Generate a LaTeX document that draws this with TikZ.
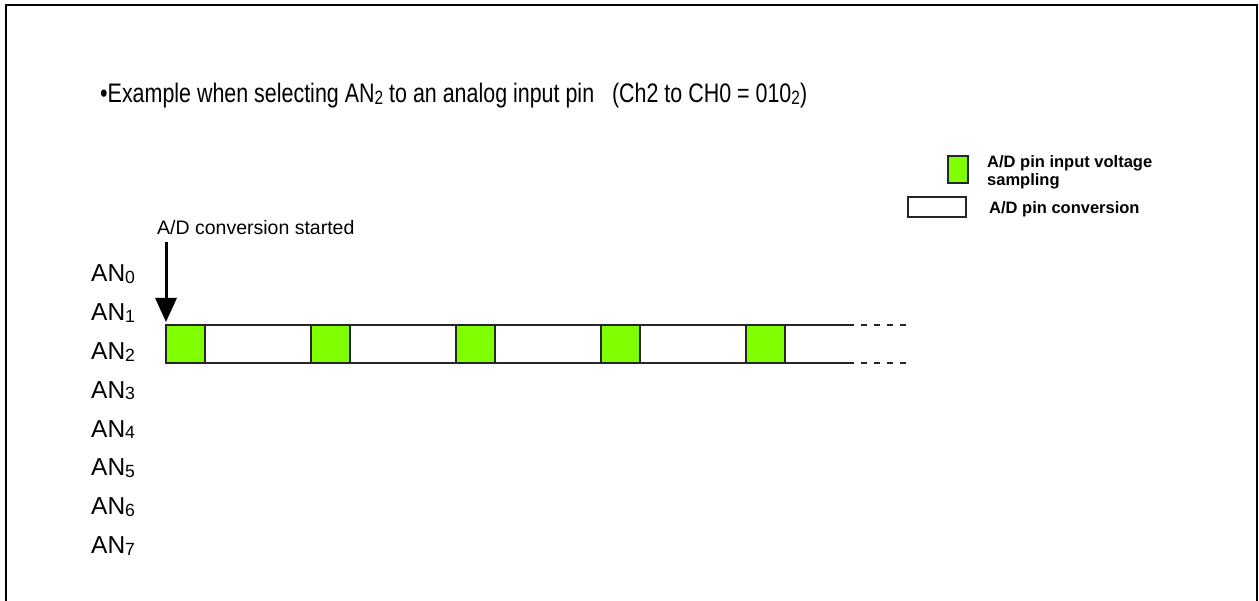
\documentclass[tikz,border=0pt]{standalone}
\usepackage{fontspec}
\setmainfont{Liberation Sans}
\newfontfamily\titlefont[FakeStretch=0.8]{Liberation Sans}
\usepackage{graphicx}
\usetikzlibrary{arrows.meta,positioning}
\definecolor{samplegreen}{RGB}{128,255,0}
\newcommand{\subdig}[1]{\raisebox{-0.06em}{\scalebox{0.72}{#1}}}

\begin{document}
\begin{tikzpicture}[x=1pt,y=-1pt,
    frameline/.style={line width=2.5pt},
    barline/.style={line width=1.8pt, draw=black!85},
    sampbox/.style={draw=black!85, line width=1.8pt, fill=samplegreen,
        minimum width=39pt, minimum height=38pt, inner sep=0pt,
        outer sep=0pt, anchor=north west},
    pinlbl/.style={font=\fontsize{24.5}{27}\selectfont, inner sep=0pt,
        anchor=base west},
    legtext/.style={font=\fontsize{16.5}{18}\selectfont\bfseries,
        inner sep=0pt, anchor=base west}
]

        % Page size
        \useasboundingbox (0,0) rectangle (1259,601);

        % Frame
        \draw[frameline] (6,601) -- (6,5) -- (1257,5) -- (1257,601);

        % Title
        \node[inner sep=0pt, anchor=base west] (title) at (100,103)
            {\titlefont\fontsize{26.8}{30}\selectfont
             \textbullet Example when selecting AN\subdig{2} to an analog
             input pin~~~(Ch2 to CH0 = 010\subdig{2})};

        % Legend
        \node[sampbox, minimum width=20pt, minimum height=27pt,
            line width=1.6pt] (legsamp) at (948,156) {};
        \node[legtext] (legsamptxt) at (987,168) {A/D pin input voltage};
        \node[legtext] (legsamptxtb) at (987,186) {sampling};
        \node[sampbox, fill=white, minimum width=58pt, minimum height=20pt,
            line width=1.6pt] (legconv) at (908,197) {};
        \node[legtext] (legconvtxt) at (989,214) {A/D pin conversion};

        % Analog input pins
        \foreach \i in {0,...,7}
        {
            \node[pinlbl] (an\i) at (91,{282+38.8*\i}) {AN\subdig{\i}};
        }

        % Sampling / conversion bar for AN2
        \foreach \i in {0,...,4}
        {
            \node[sampbox] (samp\i) at ({166+145*\i},325) {};
        }
        \coordinate (barendtop) at (848,325);
        \coordinate (barendbot) at (848,363);
        \coordinate (dashtop) at (907,325);
        \coordinate (dashbot) at (907,363);
        \draw[barline] (samp0.north west) -- (barendtop);
        \draw[barline] (samp0.south west) -- (barendbot);
        \draw[barline, dash pattern=on 6pt off 7pt] (barendtop) -- (dashtop);
        \draw[barline, dash pattern=on 6pt off 7pt] (barendbot) -- (dashbot);

        % Start of conversion
        \node[font=\fontsize{19.5}{22}\selectfont, inner sep=0pt,
            anchor=base west] (startlbl) at (157,235)
            {A/D conversion started};
        \coordinate (arrowtop) at (166,242);
        \draw[line width=3pt, -{Triangle[length=24pt,width=21pt]},
            shorten >=3pt] (arrowtop) -- (samp0.north west);

\end{tikzpicture}
\end{document}
